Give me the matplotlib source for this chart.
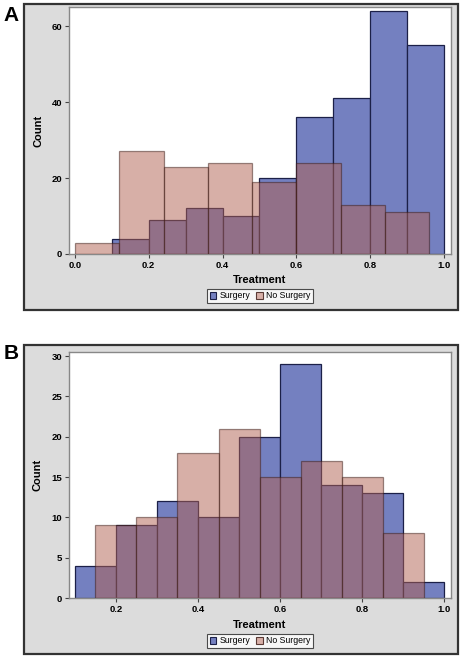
import numpy as np
import matplotlib
matplotlib.use('Agg')
import matplotlib.pyplot as plt
from matplotlib.patches import Rectangle, Patch

plt.rcParams['font.family'] = ['Liberation Sans', 'DejaVu Sans']

# panel A
a_surg_left = [0.1, 0.2, 0.3, 0.4, 0.5, 0.6, 0.7, 0.8, 0.9]
a_surg_count = [4, 9, 12, 10, 20, 36, 41, 64, 55]
a_nos_left = [0.0, 0.12, 0.24, 0.36, 0.48, 0.60, 0.72, 0.84]
a_nos_count = [3, 27, 23, 24, 19, 24, 13, 11]

# panel B
b_surg_left = [0.1, 0.2, 0.3, 0.4, 0.5, 0.6, 0.7, 0.8, 0.9]
b_surg_count = [4, 9, 12, 10, 20, 29, 14, 13, 2]
b_nos_left = [0.15, 0.25, 0.35, 0.45, 0.55, 0.65, 0.75, 0.85]
b_nos_count = [9, 10, 18, 21, 15, 17, 15, 8]

surg_color = '#7480c0'
nos_color = '#b16151'

fig = plt.figure(figsize=(4.62, 6.57), dpi=100)

# gray panel backgrounds
for yb, h in [(0.5282, 0.4658), (0.0046, 0.4703)]:
    fig.patches.append(Rectangle((0.0519, yb), 0.9394, h, transform=fig.transFigure,
                                 facecolor='#dcdcdc', edgecolor='#333333', lw=1.6, zorder=-5))

axA = fig.add_axes([0.1494, 0.6134, 0.8268, 0.3759])
axB = fig.add_axes([0.1494, 0.0898, 0.8268, 0.3744])


def draw(ax, sl, sc, sw, nl, nc, nw):
    ax.bar(sl, sc, width=sw, align='edge', color=surg_color,
           edgecolor='#1c2048', linewidth=0.9, zorder=2)
    ax.bar(nl, nc, width=nw, align='edge', color=nos_color, alpha=0.5,
           edgecolor='#3a1a14', linewidth=0.9, zorder=3)
    ax.set_facecolor('white')
    for s in ax.spines.values():
        s.set_color('#888888')
        s.set_linewidth(1.0)
    ax.tick_params(length=3, width=0.8, color='#444444', labelsize=6.8, pad=2)
    ax.set_xlabel('Treatment', fontsize=8, fontweight='bold', labelpad=4)
    ax.set_ylabel('Count', fontsize=8, fontweight='bold', labelpad=6)


draw(axA, a_surg_left, a_surg_count, 0.1, a_nos_left, a_nos_count, 0.12)
axA.set_xlim(-0.016, 1.019)
axA.set_ylim(0, 65)
axA.set_xticks([0.0, 0.2, 0.4, 0.6, 0.8, 1.0])
axA.set_xticklabels(['0.0', '0.2', '0.4', '0.6', '0.8', '1.0'], fontweight='bold')
axA.set_yticks([0, 20, 40, 60])
axA.set_yticklabels(['0', '20', '40', '60'], fontweight='bold')

draw(axB, b_surg_left, b_surg_count, 0.1, b_nos_left, b_nos_count, 0.1)
axB.set_xlim(0.086, 1.016)
axB.set_ylim(0, 30.5)
axB.set_xticks([0.2, 0.4, 0.6, 0.8, 1.0])
axB.set_xticklabels(['0.2', '0.4', '0.6', '0.8', '1.0'], fontweight='bold')
axB.set_yticks([0, 5, 10, 15, 20, 25, 30])
axB.set_yticklabels(['0', '5', '10', '15', '20', '25', '30'], fontweight='bold')

handles = [Patch(facecolor=surg_color, edgecolor='#1c2048', lw=0.8),
           Patch(facecolor='#d8b0a8', edgecolor='#5a3a35', lw=0.8)]
for ycen in [0.5495, 0.0244]:
    leg = fig.legend(handles, ['Surgery', 'No Surgery'], loc='center',
                     bbox_to_anchor=(0.563, ycen), ncol=2, fontsize=6.3,
                     frameon=True, fancybox=False, handlelength=0.75,
                     handleheight=0.75, handletextpad=0.35, columnspacing=0.7,
                     borderpad=0.3, borderaxespad=0)
    leg.get_frame().set_edgecolor('#222222')
    leg.get_frame().set_linewidth(0.8)
    leg.get_frame().set_facecolor('white')

fig.text(0.008, 0.976, 'A', fontsize=15, fontweight='bold', ha='left', va='center')
fig.text(0.008, 0.462, 'B', fontsize=15, fontweight='bold', ha='left', va='center')

fig.savefig('out.png', dpi=100)
